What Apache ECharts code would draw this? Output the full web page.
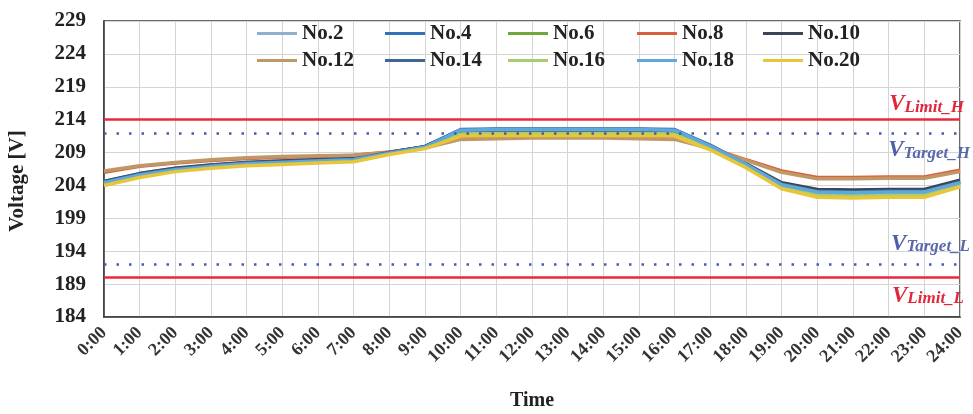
<!DOCTYPE html>
<html>
<head>
<meta charset="utf-8">
<script src="https://cdn.jsdelivr.net/npm/echarts@6/dist/echarts.min.js"></script>
<style>html,body{margin:0;padding:0;background:#fff}#c{width:973px;height:414px}</style>
</head>
<body>
<div id="c"></div>
<script>
const hours = ['0:00','1:00','2:00','3:00','4:00','5:00','6:00','7:00','8:00','9:00','10:00','11:00','12:00','13:00','14:00','15:00','16:00','17:00','18:00','19:00','20:00','21:00','22:00','23:00','24:00'];
const seriesNames = ['No.2','No.4','No.6','No.8','No.10','No.12','No.14','No.16','No.18','No.20'];
const seriesColors = ['#8fb0d0','#2f72b8','#72a83a','#d8603a','#3a4656','#c09868','#3e6893','#a8cc70','#5fa8dc','#e8c63a'];

const no2  = [204.6,205.8,206.6,207.1,207.5,207.7,207.9,208.1,209.0,209.9,212.4,212.5,212.5,212.5,212.5,212.5,212.4,210.1,207.3,204.3,203.3,203.2,203.3,203.3,204.7];
const no4  = [204.5,205.7,206.5,207.0,207.4,207.6,207.8,208.0,209.0,209.9,212.5,212.6,212.6,212.6,212.6,212.6,212.5,210.1,207.2,204.2,203.2,203.1,203.2,203.2,204.6];
const no6  = [204.3,205.5,206.4,206.9,207.3,207.5,207.7,207.9,208.9,209.8,212.3,212.4,212.4,212.4,212.4,212.4,212.3,209.9,207.1,204.0,202.9,202.8,203.0,203.0,204.4];
const no8  = [206.0,206.9,207.4,207.8,208.1,208.3,208.4,208.6,209.1,209.8,211.2,211.3,211.4,211.4,211.4,211.3,211.2,209.7,207.9,206.2,205.2,205.2,205.3,205.3,206.3];
const no10 = [204.6,205.8,206.6,207.1,207.5,207.7,207.9,208.1,209.0,209.9,212.3,212.4,212.4,212.4,212.4,212.4,212.3,210.0,207.3,204.4,203.4,203.3,203.4,203.4,204.8];
const no12 = [206.2,207.0,207.5,207.9,208.2,208.4,208.5,208.6,209.0,209.7,211.0,211.1,211.2,211.2,211.2,211.1,211.0,209.6,207.8,206.0,205.0,205.0,205.1,205.1,206.1];
const no14 = [204.5,205.7,206.5,207.0,207.4,207.6,207.8,208.0,209.0,209.9,212.4,212.5,212.5,212.5,212.5,212.5,212.4,210.0,207.2,204.2,203.1,203.0,203.1,203.1,204.5];
const no16 = [204.2,205.4,206.3,206.8,207.2,207.4,207.6,207.8,208.8,209.7,211.8,211.9,211.9,211.9,211.9,211.9,211.8,209.6,206.9,203.8,202.6,202.5,202.6,202.6,204.1];
const no18 = [204.4,205.6,206.4,206.9,207.3,207.5,207.7,207.9,208.9,209.8,212.4,212.5,212.5,212.5,212.5,212.5,212.4,210.0,207.2,204.1,203.0,202.9,203.0,203.0,204.4];
const no20 = [204.0,205.2,206.1,206.6,207.0,207.2,207.4,207.6,208.7,209.6,211.5,211.6,211.6,211.6,211.6,211.6,211.5,209.4,206.7,203.5,202.2,202.1,202.2,202.2,203.8];
const allData = [no2,no4,no6,no8,no10,no12,no14,no16,no18,no20];

const yMin = 184, yMax = 229, yStep = 5;
const limitH = 214, limitL = 190, targetH = 212, targetL = 192;

const FONT = "'Liberation Serif','Times New Roman',serif";
const chart = echarts.init(document.getElementById('c'));

const richLimit = {
  v: {fontFamily: FONT, fontSize: 23, fontStyle: 'italic', fontWeight: 'bold', color: '#e0283c', verticalAlign: 'top', lineHeight: 23},
  s: {fontFamily: FONT, fontSize: 17, fontStyle: 'italic', fontWeight: 'bold', color: '#e0283c', verticalAlign: 'bottom', lineHeight: 17, padding: [10,0,0,0]}
};
const richTarget = {
  v: {fontFamily: FONT, fontSize: 23, fontStyle: 'italic', fontWeight: 'bold', color: '#4f5ea8', verticalAlign: 'top', lineHeight: 23},
  s: {fontFamily: FONT, fontSize: 17, fontStyle: 'italic', fontWeight: 'bold', color: '#5a68ac', verticalAlign: 'bottom', lineHeight: 17, padding: [10,0,0,0]}
};

const series = seriesNames.map((n, i) => ({
  name: n, type: 'line', data: allData[i], symbol: 'none', smooth: false,
  lineStyle: {width: 3.5, color: seriesColors[i]}, itemStyle: {color: seriesColors[i]},
  z: 3
}));
series[0].markLine = {
  silent: true, symbol: 'none', animation: false,
  data: [
    {yAxis: limitH, lineStyle: {color: '#e8283c', width: 2.5, type: 'solid'},
     label: {position: 'insideEndTop', distance: [-4, 4], formatter: '{v|V}{s|Limit_H}', rich: richLimit}},
    {yAxis: limitL, lineStyle: {color: '#e8283c', width: 2.5, type: 'solid'},
     label: {position: 'insideEndBottom', distance: [-4, 7], formatter: '{v|V}{s|Limit_L}', rich: richLimit}},
    {yAxis: targetH, lineStyle: {color: '#4a5aa8', width: 2.5, type: [2.5, 10]},
     label: {position: 'insideEndBottom', distance: [-10, 6], formatter: '{v|V}{s|Target_H}', rich: richTarget}},
    {yAxis: targetL, lineStyle: {color: '#4a5aa8', width: 2.5, type: [2.5, 10]},
     label: {position: 'insideEndTop', distance: [-10, 9], formatter: '{v|V}{s|Target_L}', rich: richTarget}}
  ]
};

const colLefts = [257, 385, 508, 637, 763];
const legends = colLefts.map((x, c) => ({
  orient: 'vertical', left: x, top: 23, padding: 0,
  icon: 'rect', itemWidth: 40, itemHeight: 3, itemGap: 6,
  data: [seriesNames[c], seriesNames[c + 5]],
  textStyle: {fontFamily: FONT, fontSize: 21, fontWeight: 'bold', color: '#222', lineHeight: 21, padding: [0,0,0,0]}
}));

chart.setOption({
  animation: false,
  backgroundColor: '#fff',
  legend: legends,
  grid: {left: 104, right: 13, top: 21, bottom: 97, show: true, borderColor: '#3a3a3a', borderWidth: 1.5, containLabel: false, outerBoundsMode: 'none'},
  xAxis: {
    type: 'category', data: hours, boundaryGap: false,
    name: 'Time', nameLocation: 'middle', nameGap: 74,
    nameTextStyle: {fontFamily: FONT, fontSize: 20, fontWeight: 'bold', color: '#222'},
    axisLine: {show: true, lineStyle: {color: '#3a3a3a', width: 1.5}},
    axisTick: {show: false},
    axisLabel: {rotate: 45, interval: 0, margin: 13, fontFamily: FONT, fontSize: 18, fontWeight: 'bold', color: '#333'},
    splitLine: {show: true, interval: 0, lineStyle: {color: '#d4d4d4', width: 1}}
  },
  yAxis: {
    type: 'value', min: yMin, max: yMax, interval: yStep,
    name: 'Voltage [V]', nameLocation: 'middle', nameGap: 76,
    nameTextStyle: {fontFamily: FONT, fontSize: 21, fontWeight: 'bold', color: '#222', padding: [0, 24, 0, 0]},
    axisLine: {show: true, lineStyle: {color: '#3a3a3a', width: 1.5}},
    axisTick: {show: false},
    axisLabel: {margin: 18, fontFamily: FONT, fontSize: 21, fontWeight: 'bold', color: '#222'},
    splitLine: {show: true, lineStyle: {color: '#d4d4d4', width: 1}}
  },
  series: series
});
</script>
</body>
</html>
